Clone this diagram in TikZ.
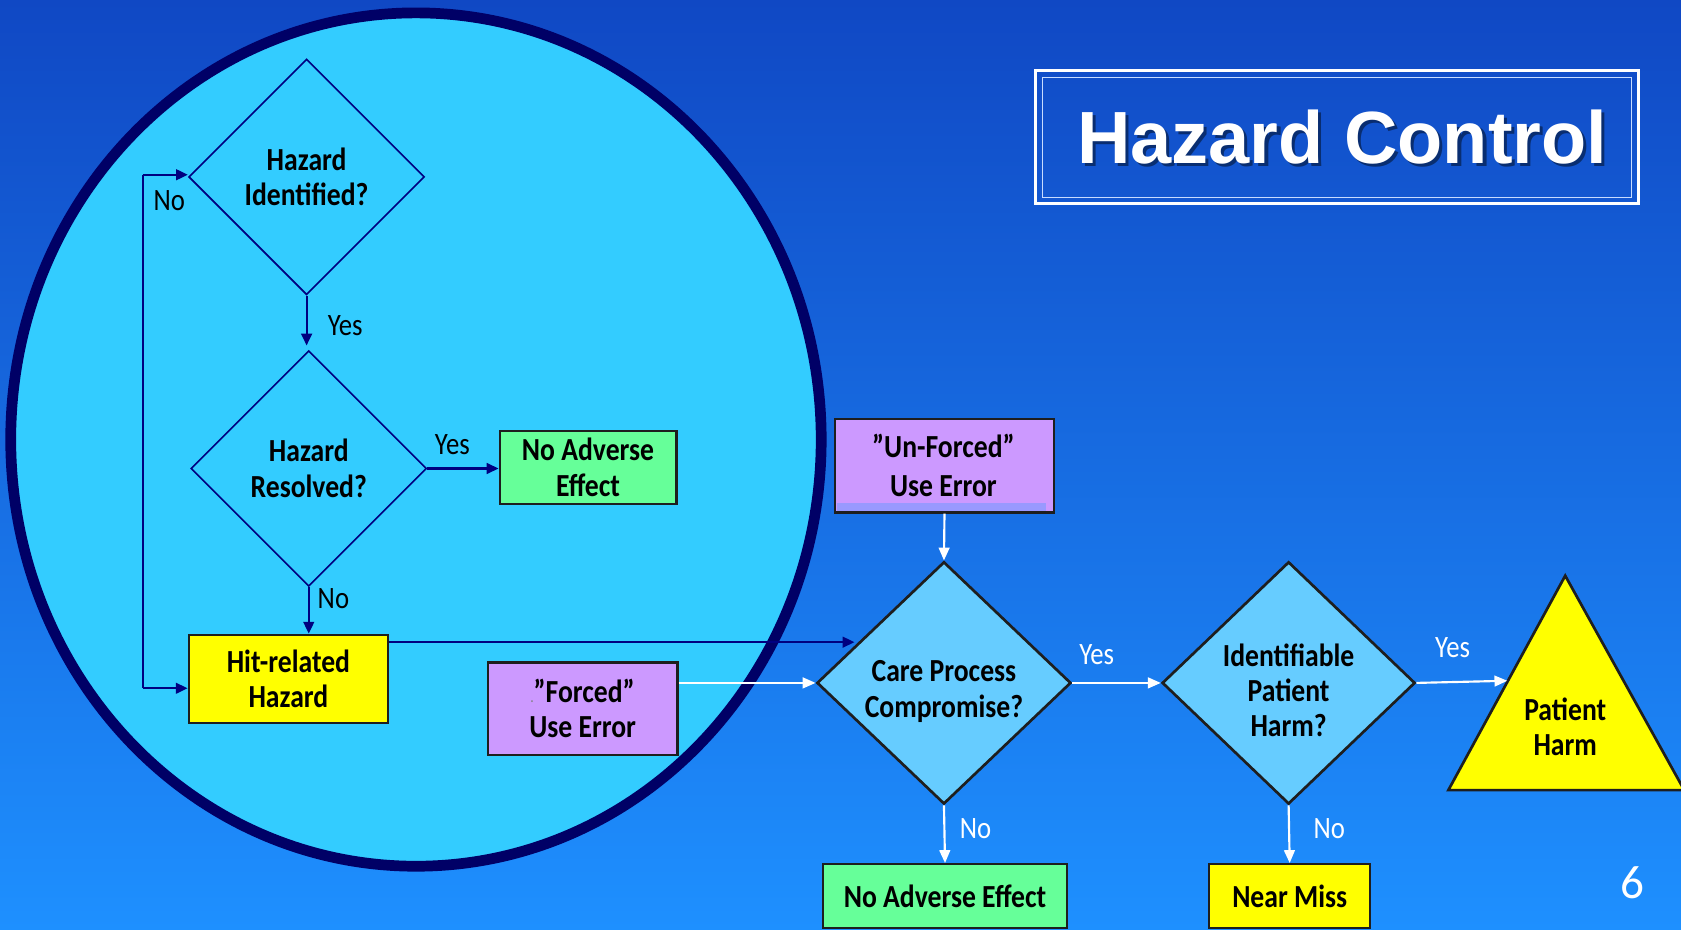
\documentclass[tikz,border=0pt]{standalone}
\usepackage{fontspec}
\setmainfont{Carlito}[FakeStretch=0.86]
\newfontfamily\titlefont{Liberation Sans}
\newfontfamily\numfont{Carlito}
\usetikzlibrary{shapes.geometric,arrows.meta,calc}

\definecolor{bgtop}{RGB}{16,72,196}
\definecolor{bgbot}{RGB}{30,144,255}
\definecolor{circfill}{RGB}{51,204,255}
\definecolor{circedge}{RGB}{0,0,102}
\definecolor{linenavy}{RGB}{0,0,128}
\definecolor{dfill}{RGB}{102,204,255}
\definecolor{gfill}{RGB}{102,255,153}
\definecolor{yfill}{RGB}{255,255,0}
\definecolor{pfill}{RGB}{204,153,255}
\definecolor{pstrip}{RGB}{153,153,255}
\definecolor{edgec}{RGB}{30,30,30}
\definecolor{frameinner}{RGB}{200,220,255}

\begin{document}
\begin{tikzpicture}[x=1pt,y=-1pt,
  boxtxt/.style={font=\fontsize{30}{33}\selectfont\bfseries, text=black, align=center},
  inq/.style={diamond, aspect=1, draw=linenavy, line width=1.5pt, inner sep=0pt, boxtxt},
  outq/.style={diamond, aspect=1, draw=edgec, fill=dfill, line width=2.5pt, inner sep=0pt},
  box/.style={rectangle, draw=edgec, line width=2pt, inner sep=0pt, boxtxt},
  narrow/.style={draw=linenavy, line width=2pt, -{Triangle[length=11pt,width=10pt]}},
  nline/.style={draw=linenavy, line width=2pt},
  warrow/.style={draw=white, line width=2pt, -{Triangle[length=12pt,width=10pt]}},
  inlbl/.style={font=\fontsize{29}{30}\selectfont, text=black},
  outlbl/.style={font=\fontsize{29}{30}\selectfont, text=white},
]
% background
\shade[top color=bgtop, bottom color=bgbot] (0,0) rectangle (1568,867);
\useasboundingbox (0,0) rectangle (1568,867);

% big circle
\draw[fill=circfill, draw=circedge, line width=10pt] (388,410) ellipse [x radius=378, y radius=398];

% title
\draw[white, line width=3pt] (966,66) rectangle (1528,190);
\draw[frameinner, line width=1pt] (972,72) rectangle (1522,184);
\node[font=\titlefont\bfseries\fontsize{69}{80}\selectfont, text=black, opacity=0.45] at (1255,131) {Hazard Control};
\node (title) [font=\titlefont\bfseries\fontsize{69}{80}\selectfont, text=white] at (1252,128) {Hazard Control};

% inner flow
\node (d1) [inq, minimum width=220pt, minimum height=220pt] at (286,165) {Hazard\\Identified?};
\node (d2) [inq, minimum width=220pt, minimum height=220pt] at (288,437) {Hazard\\Resolved?};
\node (nae1) [box, fill=gfill, minimum width=165pt, minimum height=68pt] at (548.5,436) {No Adverse\\Effect};
\node (hit) [box, fill=yfill, minimum width=186pt, minimum height=82pt] at (269,633) {Hit-related\\Hazard};

\draw[narrow, shorten >=4pt] (d1.south) -- (d1.south |- d2.north);
\node (lyes1) [inlbl] at (322,304) {Yes};
\draw[narrow] (d2.east) -- (nae1.west |- d2.east);
\node (lyes2) [inlbl] at (422,415) {Yes};
\draw[narrow] (d2.south) -- (d2.south |- hit.north);
\node (lno1) [inlbl] at (311,558) {No};

\coordinate (looptop) at (133,163);
\coordinate (loopbot) at (133,642);
\draw[nline] (looptop) -- (loopbot);
\draw[narrow] (looptop) -- (d1.west |- looptop);
\draw[narrow] (loopbot) -- (hit.west |- loopbot);
\node (lno0) [inlbl] at (158,187) {No};

% outer flow
\node (forced) [box, fill=pfill, minimum width=177pt, minimum height=86pt] at (543.5,661) {{\color{gray}\fontsize{12}{12}\selectfont.}”Forced”\\Use Error};
\node (unforced) [box, fill=pfill, minimum width=204pt, minimum height=87pt] at (881,434.5) {};
\fill[pstrip] (780.5,469) rectangle (976,477);
\node (unforcedtxt) [boxtxt, font=\fontsize{30}{37}\selectfont\bfseries] at (880,434) {”Un-Forced”\\Use Error};

\node (cp) [outq, minimum width=237pt, minimum height=226pt,
  label={[boxtxt, yshift=-8pt]center:{Care Process\\Compromise?}}] at (880.5,637) {};
\node (iph) [outq, minimum width=236pt, minimum height=226pt,
  label={[boxtxt, yshift=-7pt]center:{Identifiable\\Patient\\Harm?}}] at (1202,637) {};

\filldraw[fill=yfill, draw=edgec, line width=2.5pt] (1460,537) -- (1571,737) -- (1351,737) -- cycle;
\node (tri) [boxtxt] at (1460,678) {Patient\\Harm};
\coordinate (triin) at (1406,635);

\node (nae2) [box, fill=gfill, minimum width=227pt, minimum height=60pt] at (881.5,836) {No Adverse Effect};
\node (nm) [box, fill=yfill, minimum width=150pt, minimum height=60pt] at (1203,836) {Near Miss};

\coordinate (hitout) at (hit.north east |- 0,599);
\coordinate (cpin) at (797,599);
\draw[narrow] (hitout) -- (cpin);

\draw[warrow] (forced.east |- cp.west) -- (cp.west);
\draw[warrow] (unforced.south) -- (cp.north);
\draw[warrow] (cp.east) -- (iph.west);
\node (lyes3) [outlbl] at (1023,611) {Yes};
\draw[warrow] (iph.east) -- (triin);
\node (lyes4) [outlbl] at (1355,604) {Yes};
\draw[warrow] (cp.south) -- (nae2.north);
\node (lno3) [outlbl] at (910,773) {No};
\draw[warrow] (iph.south) -- (nm.north);
\node (lno4) [outlbl] at (1240,773) {No};

\node (pagenum) [font=\numfont\fontsize{44}{50}\selectfont, text=white] at (1523,823) {6};
\end{tikzpicture}
\end{document}
